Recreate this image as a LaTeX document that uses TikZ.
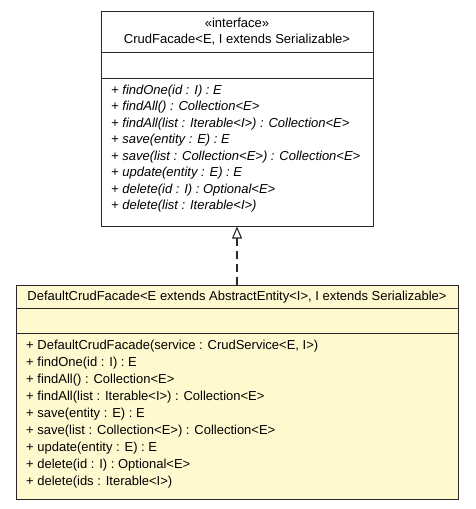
\documentclass[tikz,border=0pt]{standalone}
\usepackage{fontspec}
\setmainfont{Liberation Sans}
\usetikzlibrary{arrows.meta,shadows}
\definecolor{implfill}{RGB}{255,249,208}
\definecolor{umlline}{RGB}{40,40,40}
\begin{document}
\begin{tikzpicture}[x=1pt,y=-1pt,
    font=\fontsize{13}{15}\selectfont,
    classbox/.style={draw=umlline,line width=1pt,inner sep=0pt,
      drop shadow={shadow xshift=1.2pt,shadow yshift=-1.2pt,fill=black!45,opacity=1}},
    sepline/.style={draw=umlline,line width=1.3pt},
    member/.style={inner sep=0pt,anchor=west},
    realize/.style={draw=umlline,line width=1.1pt,dash pattern=on 8pt off 5pt,
      -{Triangle[open,length=12pt,width=10pt,line width=1.1pt]}}]
    \useasboundingbox (0,0) rectangle (475,509);
    \node[classbox,fill=white,minimum width=272pt,minimum height=215pt] (crudfacade) at (237,118.5) {};
    \node[classbox,fill=implfill,minimum width=442pt,minimum height=214pt] (defaultfacade) at (237,392) {};
    \draw[sepline] ([yshift=-42pt]crudfacade.north west) -- ([yshift=-42pt]crudfacade.north east);
    \draw[sepline] ([yshift=-68pt]crudfacade.north west) -- ([yshift=-68pt]crudfacade.north east);
    \draw[sepline] ([yshift=-24pt]defaultfacade.north west) -- ([yshift=-24pt]defaultfacade.north east);
    \draw[sepline] ([yshift=-49pt]defaultfacade.north west) -- ([yshift=-49pt]defaultfacade.north east);
    \node[inner sep=0pt] (cfstereo) at (237,23) {«interface»};
    \node[inner sep=0pt] (cfname) at (237,40) {CrudFacade<E, I extends Serializable>};
    \node[member] (cfm1) at (111,91) {\itshape + findOne(id : I) : E};
    \node[member] (cfm2) at (111,107.5) {\itshape + findAll() : Collection<E>};
    \node[member] (cfm3) at (111,124) {\itshape + findAll(list : Iterable<I>) : Collection<E>};
    \node[member] (cfm4) at (111,140.5) {\itshape + save(entity : E) : E};
    \node[member] (cfm5) at (111,157) {\itshape + save(list : Collection<E>) : Collection<E>};
    \node[member] (cfm6) at (111,173.5) {\itshape + update(entity : E) : E};
    \node[member] (cfm7) at (111,190) {\itshape + delete(id : I) : Optional<E>};
    \node[member] (cfm8) at (111,206.5) {\itshape + delete(list : Iterable<I>)};
    \node[inner sep=0pt] (dfname) at (237,297) {DefaultCrudFacade<E extends AbstractEntity<I>, I extends Serializable>};
    \node[member] (dfm1) at (26,346.5) {+ DefaultCrudFacade(service : CrudService<E, I>)};
    \node[member] (dfm2) at (26,363.5) {+ findOne(id : I) : E};
    \node[member] (dfm3) at (26,380.5) {+ findAll() : Collection<E>};
    \node[member] (dfm4) at (26,397.5) {+ findAll(list : Iterable<I>) : Collection<E>};
    \node[member] (dfm5) at (26,414.5) {+ save(entity : E) : E};
    \node[member] (dfm6) at (26,431.5) {+ save(list : Collection<E>) : Collection<E>};
    \node[member] (dfm7) at (26,448.5) {+ update(entity : E) : E};
    \node[member] (dfm8) at (26,465.5) {+ delete(id : I) : Optional<E>};
    \node[member] (dfm9) at (26,482.5) {+ delete(ids : Iterable<I>)};
    \draw[realize] (defaultfacade.north) to (crudfacade.south);
  \end{tikzpicture}
\end{document}
